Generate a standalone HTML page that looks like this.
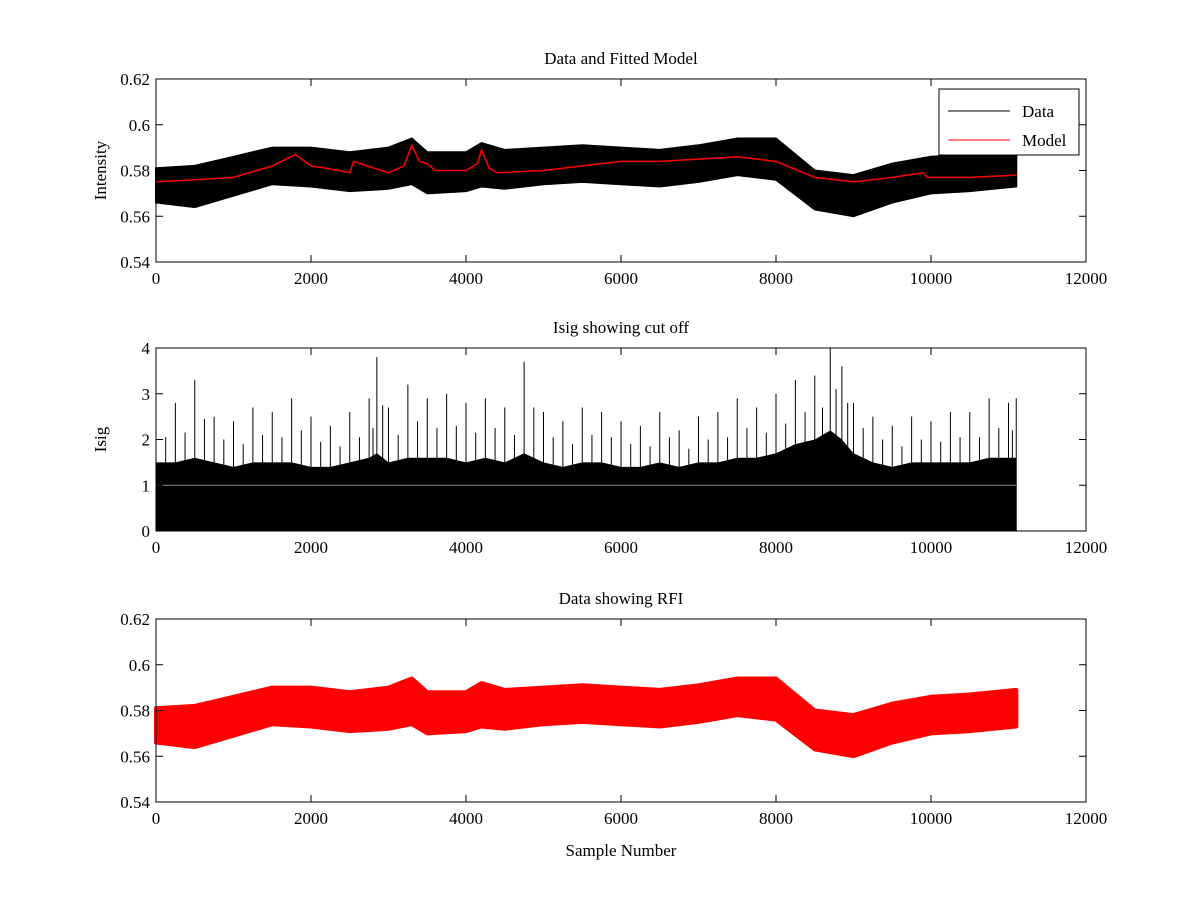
<!DOCTYPE html>
<html><head><meta charset="utf-8">
<style>
html,body{margin:0;padding:0;background:#fff;}
svg{display:block;font-family:"Liberation Serif",serif;}
</style></head>
<body>
<svg id="fig" width="1200" height="900" viewBox="0 0 1200 900"></svg>
<script>
// ---- data ----
const samples = [0,500,1000,1500,2000,2500,3000,3300,3500,4000,4200,4500,5000,5500,6000,6500,7000,7500,8000,8500,9000,9500,10000,10500,11100];
const dataUpper = [0.581,0.582,0.586,0.590,0.590,0.588,0.590,0.594,0.588,0.588,0.592,0.589,0.590,0.591,0.590,0.589,0.591,0.594,0.594,0.580,0.578,0.583,0.586,0.587,0.589];
const dataLower = [0.566,0.564,0.569,0.574,0.573,0.571,0.572,0.574,0.570,0.571,0.573,0.572,0.574,0.575,0.574,0.573,0.575,0.578,0.576,0.563,0.560,0.566,0.570,0.571,0.573];
const modelSamples = [0,500,1000,1500,1800,2000,2200,2500,2550,3000,3200,3300,3400,3500,3600,4000,4150,4200,4300,4400,5000,5500,6000,6500,7000,7500,8000,8500,9000,9500,9900,9950,10500,11100];
const modelValues = [0.575,0.576,0.577,0.582,0.587,0.582,0.581,0.579,0.584,0.579,0.582,0.591,0.584,0.583,0.580,0.580,0.583,0.589,0.581,0.579,0.580,0.582,0.584,0.584,0.585,0.586,0.584,0.577,0.575,0.577,0.579,0.577,0.577,0.578];
const isigSamples = [0,250,500,750,1000,1250,1500,1750,2000,2250,2500,2750,2850,3000,3250,3500,3750,4000,4250,4500,4750,5000,5250,5500,5750,6000,6250,6500,6750,7000,7250,7500,7750,8000,8250,8500,8700,8850,9000,9250,9500,9750,10000,10250,10500,10750,11000,11100];
const isigPeaks = [2.6,2.8,3.3,2.5,2.4,2.7,2.6,2.9,2.5,2.3,2.6,2.9,3.8,2.7,3.2,2.9,3.0,2.8,2.9,2.7,3.7,2.6,2.4,2.7,2.6,2.4,2.3,2.6,2.2,2.5,2.6,2.9,2.7,3.0,3.3,3.4,4.0,3.6,2.8,2.5,2.3,2.5,2.4,2.6,2.6,2.9,2.8,2.9];
const isigDense = [1.5,1.5,1.6,1.5,1.4,1.5,1.5,1.5,1.4,1.4,1.5,1.6,1.7,1.5,1.6,1.6,1.6,1.5,1.6,1.5,1.7,1.5,1.4,1.5,1.5,1.4,1.4,1.5,1.4,1.5,1.5,1.6,1.6,1.7,1.9,2.0,2.2,2.0,1.7,1.5,1.4,1.5,1.5,1.5,1.5,1.6,1.6,1.6];
const xTicks = [0,2000,4000,6000,8000,10000,12000];
const intTicks = [0.54,0.56,0.58,0.6,0.62];
const isigTicks = [0,1,2,3,4];

const NS="http://www.w3.org/2000/svg";
const svg=document.getElementById('fig');
function mk(tag,attrs,parent){const e=document.createElementNS(NS,tag);for(const k in attrs)e.setAttribute(k,attrs[k]);(parent||svg).appendChild(e);return e;}
function txt(s,attrs,parent){const e=mk('text',attrs,parent);e.textContent=s;return e;}

const L=156,R=1086;
function xs(v){return L+(v/12000)*(R-L);}
function axes(top,bot,ymin,ymax,yt,fmt,title,ylabel,name){
  const g=mk('g',{});
  
  
  const ys=v=>bot-(v-ymin)/(ymax-ymin)*(bot-top);
  return {g,ys,finish(){
    const f=mk('g',{},g);
    
    
    mk('rect',{x:L,y:top,width:R-L,height:bot-top,fill:'none',stroke:'#000','stroke-width':1},f);
    xTicks.forEach(t=>{const x=xs(t);
      mk('line',{x1:x,x2:x,y1:bot,y2:bot-7,stroke:'#000'},f);
      mk('line',{x1:x,x2:x,y1:top,y2:top+7,stroke:'#000'},f);
      const tl=txt(String(t),{x:x,y:bot+22,'font-size':17,'text-anchor':'middle'},f);
      
      
    });
    yt.forEach(t=>{const y=ys(t);
      mk('line',{x1:L,x2:L+7,y1:y,y2:y,stroke:'#000'},f);
      mk('line',{x1:R,x2:R-7,y1:y,y2:y,stroke:'#000'},f);
      const tl=txt(fmt(t),{x:L-6,y:y+6,'font-size':17,'text-anchor':'end'},f);
      
      
    });
    const tt=txt(title,{x:(L+R)/2,y:top-15,'font-size':17,'text-anchor':'middle'},f);
    
    
    if(ylabel){const yl=txt(ylabel,{x:0,y:0,'font-size':17,'text-anchor':'middle',transform:`translate(106,${(top+bot)/2}) rotate(-90)`},f);
      
      }
  }};
}
const fmtI=t=>t===0.6?'0.6':t.toFixed(2);

function bandPath(xsArr,up,lo,ys){
  let pts=[];
  for(let i=0;i<xsArr.length;i++)pts.push(xs(xsArr[i]).toFixed(1)+','+ys(up[i]).toFixed(1));
  for(let i=xsArr.length-1;i>=0;i--)pts.push(xs(xsArr[i]).toFixed(1)+','+ys(lo[i]).toFixed(1));
  return 'M'+pts.join('L')+'Z';
}

// ---- Plot 1 ----
const a1=axes(79,262,0.54,0.62,intTicks,fmtI,'Data and Fitted Model','Intensity','data-model-panel');
const d1=mk('path',{d:bandPath(samples,dataUpper,dataLower,a1.ys),fill:'#000',stroke:'#000','stroke-width':2,'stroke-linejoin':'miter'},a1.g);


const m1=mk('polyline',{points:modelSamples.map((s,i)=>xs(s).toFixed(1)+','+a1.ys(modelValues[i]).toFixed(1)).join(' '),fill:'none',stroke:'#f00','stroke-width':1.5},a1.g);


a1.finish();
const lg=mk('g',{});


mk('rect',{x:939,y:89,width:140,height:66,fill:'#fff',stroke:'#000'},lg);
mk('line',{x1:948,x2:1010,y1:111,y2:111,stroke:'#000'},lg);
const le1=txt('Data',{x:1022,y:117,'font-size':17},lg);


mk('line',{x1:948,x2:1010,y1:140,y2:140,stroke:'#f00'},lg);
const le2=txt('Model',{x:1022,y:146,'font-size':17},lg);



// ---- Plot 2 ----
const a2=axes(348,531,0,4,isigTicks,t=>String(t),'Isig showing cut off','Isig','isig-panel');
const zeros=isigSamples.map(()=>0);
const d2=mk('path',{d:bandPath(isigSamples,isigDense,zeros,a2.ys),fill:'#000'},a2.g);


isigSamples.forEach((s,i)=>{
  const ln=mk('line',{x1:xs(s),x2:xs(s),y1:a2.ys(0),y2:a2.ys(isigPeaks[i]),stroke:'#000','stroke-width':1},a2.g);
  
  
  if(i<isigSamples.length-1){const mx=(s+isigSamples[i+1])/2;
    const l2=mk('line',{x1:xs(mx),x2:xs(mx),y1:a2.ys(0),y2:a2.ys((isigPeaks[i]+isigDense[i])/2),stroke:'#000','stroke-width':1},a2.g);
    
    }
});
const cut=mk('line',{x1:xs(0),x2:xs(11100),y1:a2.ys(1),y2:a2.ys(1),stroke:'#888','stroke-width':1},a2.g);


a2.finish();

// ---- Plot 3 ----
const a3=axes(619,802,0.54,0.62,intTicks,fmtI,'Data showing RFI',null,'rfi-panel');
const d3=mk('path',{d:bandPath(samples,dataUpper,dataLower,a3.ys),fill:'#f00',stroke:'#f00','stroke-width':4,'stroke-linejoin':'round'},a3.g);


a3.finish();
const xl=txt('Sample Number',{x:(L+R)/2,y:856,'font-size':17,'text-anchor':'middle'});


</script>
</body></html>
